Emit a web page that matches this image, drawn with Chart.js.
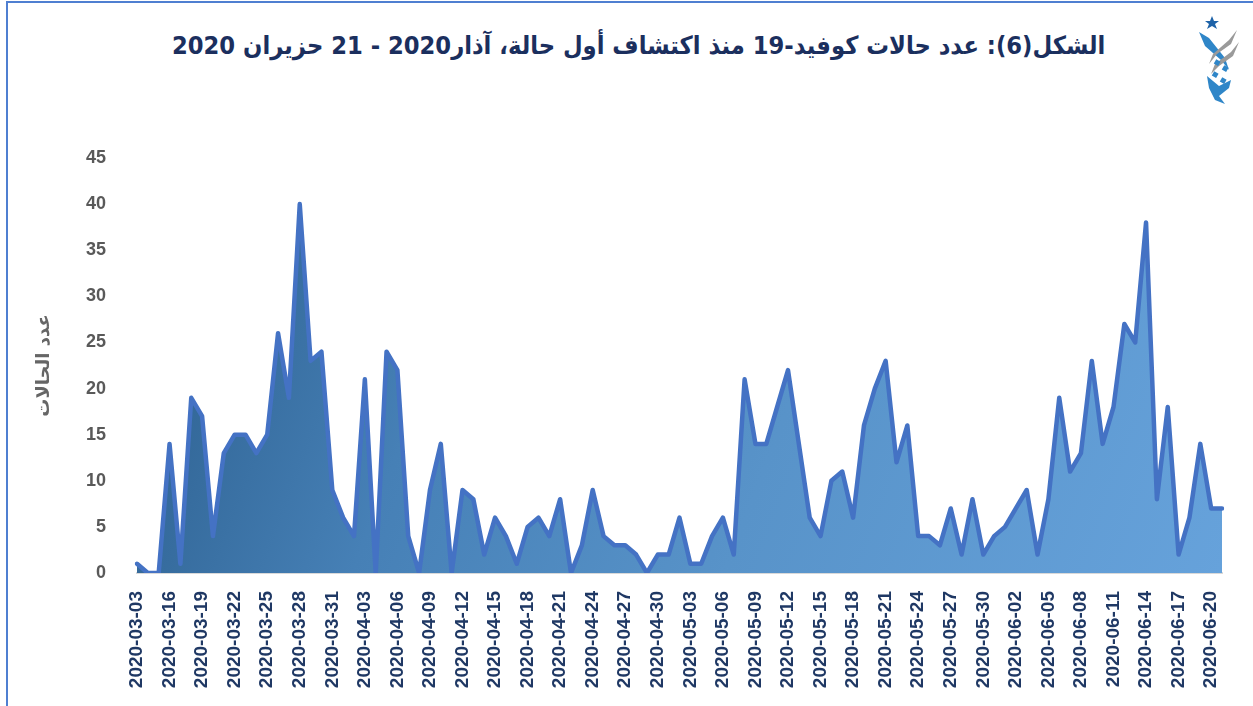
<!DOCTYPE html>
<html>
<head>
<meta charset="utf-8">
<script src="https://cdn.jsdelivr.net/npm/chart.js@4.4.0/dist/chart.umd.min.js"></script>
<style>
  body { margin: 0; background: #fff; }
  #wrap { position: relative; width: 1253px; height: 706px; overflow: hidden; }
  #frame { position: absolute; left: 6px; top: 1px; width: 1260px; height: 720px;
           border-left: 2px solid #4F7FD1; border-top: 2px solid #4F7FD1; }
  #title { position: absolute; top: 29px; left: 172px; white-space: nowrap;
           font-family: "DejaVu Sans Condensed", "DejaVu Sans", sans-serif; font-weight: bold;
           font-size: 25px; line-height: 34px; color: #1B2F5E; direction: rtl;
           transform-origin: left center; }
  #logo { position: absolute; left: 1195px; top: 14px; }
  canvas { position: absolute; left: 0; top: 0; }
</style>
</head>
<body>
<div id="wrap">
  <div id="frame"></div>
  <span id="title">الشكل(6): عدد حالات كوفيد-19 منذ اكتشاف أول حالة، آذار2020 - 21 حزيران 2020</span>
  <svg id="logo" width="50" height="90" viewBox="0 0 50 90">
    <polygon points="17,2 19,7 24,7 20,10 22,15 17,12 12,15 14,10 10,7 15,7" fill="#1E63A8"/>
    <polygon points="4,18 14,24 30,44 34,56 26,46 10,32" fill="#2F86C8"/>
    <polygon points="42,16 36,30 22,40 14,50 18,40 34,26" fill="#9A9A9A"/>
    <polygon points="44,28 38,42 24,52 16,60 20,50 36,38" fill="#9A9A9A"/>
    <rect x="20" y="46" width="5" height="5" fill="#2F86C8" transform="rotate(30 22 48)"/>
    <rect x="28" y="52" width="5" height="5" fill="#2F86C8" transform="rotate(30 30 54)"/>
    <rect x="18" y="58" width="5" height="5" fill="#2F86C8" transform="rotate(30 20 60)"/>
    <rect x="26" y="64" width="5" height="5" fill="#2F86C8" transform="rotate(30 28 66)"/>
    <polygon points="12,62 24,72 36,66 34,74 24,82 30,90 20,86 14,74" fill="#2F86C8"/>
  </svg>
  <canvas id="c" width="1253" height="706"></canvas>
</div>
<script>
const dates = [
  '2020-03-03', '2020-03-14', '2020-03-15', '2020-03-16', '2020-03-17', '2020-03-18', '2020-03-19',
  '2020-03-20', '2020-03-21', '2020-03-22', '2020-03-23', '2020-03-24', '2020-03-25', '2020-03-26',
  '2020-03-27', '2020-03-28', '2020-03-29', '2020-03-30', '2020-03-31', '2020-04-01', '2020-04-02',
  '2020-04-03', '2020-04-04', '2020-04-05', '2020-04-06', '2020-04-07', '2020-04-08', '2020-04-09',
  '2020-04-10', '2020-04-11', '2020-04-12', '2020-04-13', '2020-04-14', '2020-04-15', '2020-04-16',
  '2020-04-17', '2020-04-18', '2020-04-19', '2020-04-20', '2020-04-21', '2020-04-22', '2020-04-23',
  '2020-04-24', '2020-04-25', '2020-04-26', '2020-04-27', '2020-04-28', '2020-04-29', '2020-04-30',
  '2020-05-01', '2020-05-02', '2020-05-03', '2020-05-04', '2020-05-05', '2020-05-06', '2020-05-07',
  '2020-05-08', '2020-05-09', '2020-05-10', '2020-05-11', '2020-05-12', '2020-05-13', '2020-05-14',
  '2020-05-15', '2020-05-16', '2020-05-17', '2020-05-18', '2020-05-19', '2020-05-20', '2020-05-21',
  '2020-05-22', '2020-05-23', '2020-05-24', '2020-05-25', '2020-05-26', '2020-05-27', '2020-05-28',
  '2020-05-29', '2020-05-30', '2020-05-31', '2020-06-01', '2020-06-02', '2020-06-03', '2020-06-04',
  '2020-06-05', '2020-06-06', '2020-06-07', '2020-06-08', '2020-06-09', '2020-06-10', '2020-06-11',
  '2020-06-12', '2020-06-13', '2020-06-14', '2020-06-15', '2020-06-16', '2020-06-17', '2020-06-18',
  '2020-06-19', '2020-06-20', '2020-06-21'
];

// daily new cases
const cases = [
  1, 0, 0, 14, 1, 19, 17, 4, 13, 15,
  15, 13, 15, 26, 19, 40, 23, 24, 9, 6,
  4, 21, 0, 24, 22, 4, 0, 9, 14, 0,
  9, 8, 2, 6, 4, 1, 5, 6, 4, 8,
  0, 3, 9, 4, 3, 3, 2, 0, 2, 2,
  6, 1, 1, 4, 6, 2, 21, 14, 14, 18,
  22, 14, 6, 4, 10, 11, 6, 16, 20, 23,
  12, 16, 4, 4, 3, 7, 2, 8, 2, 4,
  5, 7, 9, 2, 8, 19, 11, 13, 23, 14,
  18, 27, 25, 38, 8, 18, 2, 6, 14, 7,
  7
];

const yAxisTitle = 'عدد الحالات';

// stretch title to the width it has in the picture
const title = document.getElementById('title');
const tw = title.offsetWidth;
title.style.transform = 'scaleX(' + (933 / tw) + ')';

const ctx = document.getElementById('c').getContext('2d');
const chart = new Chart(ctx, {
  type: 'line',
  data: {
    labels: dates,
    datasets: [{
      data: cases,
      borderColor: '#4472C4',
      borderWidth: 4.5,
      borderJoinStyle: 'round',
      borderCapStyle: 'round',
      pointRadius: 0,
      tension: 0,
      fill: 'origin',
      backgroundColor: (c) => {
        const a = c.chart.chartArea;
        if (!a) return '#4F89C0';
        const g = c.chart.ctx.createLinearGradient(a.left, a.top, a.right, a.bottom);
        g.addColorStop(0, '#285A88');
        g.addColorStop(0.3, '#4680B6');
        g.addColorStop(0.6, '#5893C9');
        g.addColorStop(1, '#66A2DB');
        return g;
      }
    }]
  },
  options: {
    responsive: false,
    animation: false,
    layout: { padding: { left: 32, top: 158, right: 31, bottom: 0 } },
    plugins: { legend: { display: false }, tooltip: { enabled: false } },
    scales: {
      x: {
        offset: false,
        grid: { display: false },
        border: { display: true, color: '#D9D9D9', width: 2 },
        ticks: {
          autoSkip: false,
          minRotation: 90,
          maxRotation: 90,
          padding: 10,
          color: '#1F3864',
          font: { family: 'Liberation Sans', weight: 'bold', size: 19 },
          callback: (v, i) => i % 3 === 0 ? dates[i] : null
        },
        afterFit: s => { s.height = 133; }
      },
      y: {
        min: 0,
        max: 45,
        grid: { display: false },
        border: { display: false },
        ticks: {
          stepSize: 5,
          padding: 23,
          color: '#595959',
          font: { family: 'Liberation Sans', weight: 'bold', size: 18 }
        },
        title: {
          display: true,
          text: yAxisTitle,
          color: '#666666',
          font: { family: 'DejaVu Sans', size: 18, weight: 'bold' },
          padding: { top: 2, bottom: 4 }
        },
        afterFit: s => { s.width = 105; }
      }
    }
  }
});
</script>
</body>
</html>
